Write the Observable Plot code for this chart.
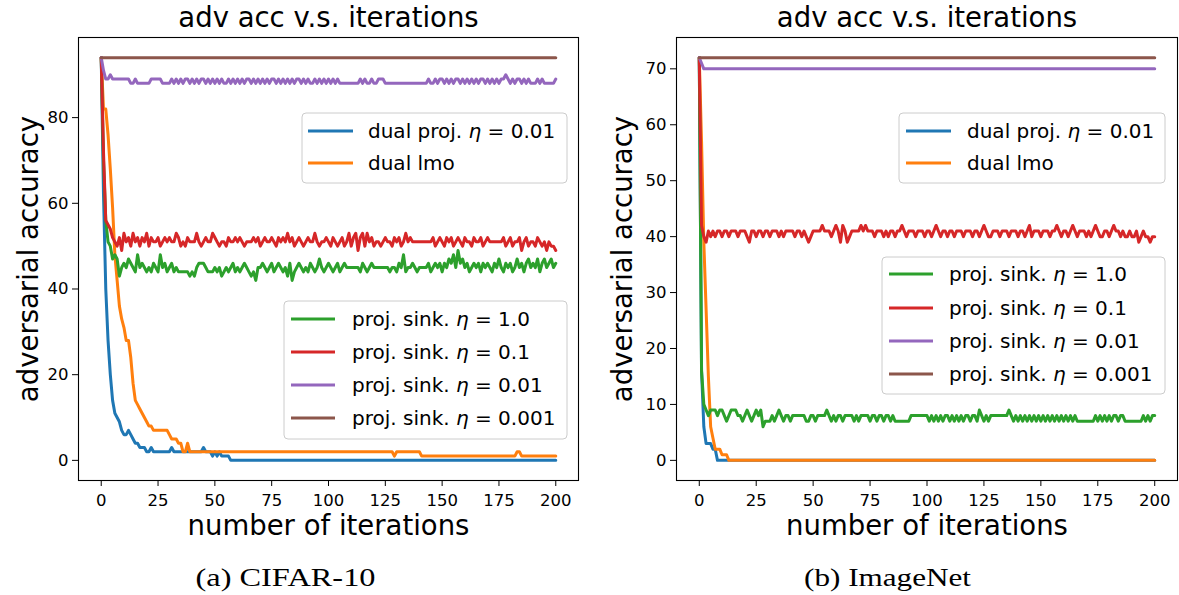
<!DOCTYPE html>
<html><head><meta charset="utf-8">
<script src="https://cdn.jsdelivr.net/npm/d3@7"></script>
<script src="https://cdn.jsdelivr.net/npm/@observablehq/plot@0.6"></script>
<style>
body{margin:0;background:#fff;}
#wrap{display:flex;width:1179px;height:595px;overflow:hidden;}
svg{display:block;overflow:visible}
</style></head><body><div id="wrap"></div>
<script>
// ---------- data ----------
const iterations = d3.range(0, 201);
const xTicks = [0, 25, 50, 75, 100, 125, 150, 175, 200];
const cifarYTicks = [0, 20, 40, 60, 80];
const imagenetYTicks = [0, 10, 20, 30, 40, 50, 60, 70];
const seriesKeys = ["dualProj", "dualLmo", "sink1", "sink01", "sink001", "sink0001"];
const seriesLabels = ["dual proj. η = 0.01", "dual lmo", "proj. sink. η = 1.0", "proj. sink. η = 0.1", "proj. sink. η = 0.01", "proj. sink. η = 0.001"];
const seriesColors = ["#1f77b4", "#ff7f0e", "#2ca02c", "#d62728", "#9467bd", "#8c564b"];
const panelTitles = ["adv acc v.s. iterations", "adv acc v.s. iterations"];
const panelCaptions = ["(a) CIFAR-10", "(b) ImageNet"];

// run notation: a number is one value, [value, n] is that value read n times in a row
const cifarDualProj = [94,62,40,28,20,14,11,10,9,7, 6,6,7,6,5,4,4,3,3,3, 2,2,3,2,2,2,2,2,2,2, 2,3,2,2,2,2,2,2,2,2, 2,2,2,2,2,3,2,2,2,1, 2,1,2,1,1,1,1,0, [0,143]];
const cifarDualLmo = [94,82,82,76,68,59,48,42,36,33, 31,28,28,24,18,14,13,12,11,10, 9,8,8,7,7,7,7,7,7,7, 6,5,5,5,4,4,2,2,4,2, [2,89], 1, [2,11], [1,42], 2, 2, [1,16]];
const cifarSink1 = [
94,70,56,51,50,47,48,47,43,45,
46,45,47,46,45,44,48,45,46,45,
44,45,44,46,45,44,48,45,46,44,
45,46,44,45,44,44,44,44,44,43,
44,43,45,46,46,46,45,44,44,44,
45,44,45,43,44,45,44,45,46,44,
45,44,45,46,45,44,43,44,42,45,
45,46,45,44,45,46,44,45,46,45,
44,45,43,46,42,44,45,46,45,44,
45,44,46,45,44,45,47,45,44,45,
46,45,44,45,46,44,45,46,45,45,
45,45,45,45,44,46,45,44,45,46,
45,45,45,45,45,45,45,44,45,45,
44,46,45,48,44,45,45,46,45,44,
45,45,45,45,46,44,45,46,45,46,
44,46,45,47,46,48,45,49,46,47,
45,46,44,45,46,45,46,44,46,45,
46,45,44,46,45,47,45,44,46,45,
46,44,45,47,45,46,44,46,47,45,
46,45,47,44,46,47,45,46,47,45,
46];
const cifarSink01 = [
94,72,56,55,54,52,51,50,52,49,
53,51,52,50,53,51,52,50,52,51,
53,50,52,51,51,52,50,51,52,51,
52,51,51,53,52,50,51,50,52,51,
51,51,53,51,50,51,52,51,51,53,
52,51,50,51,51,50,52,51,51,52,
51,52,51,50,51,51,51,52,51,52,
50,51,52,51,51,52,51,50,52,51,
52,51,53,51,52,50,51,52,51,50,
51,52,51,51,53,51,50,51,51,52,
51,50,52,51,50,51,52,50,51,53,
50,52,53,49,52,53,50,53,51,52,
50,51,51,50,51,52,51,51,50,52,
51,52,50,51,53,51,52,51,51,51,
51,51,51,51,51,51,52,50,51,52,
51,50,52,51,52,50,51,52,51,50,
52,51,51,50,52,51,51,52,50,51,
52,51,51,51,51,51,51,52,50,51,
52,50,51,51,52,49,51,52,50,51,
51,50,52,51,50,51,49,51,50,50,
49];
const cifarSink001 = [
94,91,89,89,90,89,89,89,89,89,
89,89,89,88,88,89,88,88,88,88,
88,88,89,89,89,89,89,88,88,88,
88,89,88,89,88,89,88,89,89,88,
89,88,89,88,89,89,88,89,88,89,
88,89,88,89,88,88,89,88,89,88,
89,88,89,88,89,89,88,89,88,89,
88,89,88,89,88,89,89,88,89,88,
89,88,89,88,89,88,89,89,88,89,
88,89,88,88,89,88,89,88,89,88,
89,88,89,88,89,88,88,88,88,88,
88,88,88,88,89,88,89,88,88,89,
88,88,89,89,89,88,88,88,88,88,
88,88,88,88,88,88,88,88,88,88,
88,88,88,88,89,88,88,89,88,89,
89,88,89,88,89,88,89,89,88,89,
88,89,88,89,88,89,88,89,89,88,
89,88,89,88,89,88,89,89,90,89,
88,89,88,89,89,88,89,88,89,88,
88,88,89,88,89,88,88,88,88,88,
89];
const cifarSink0001 = [[94, 201]];

const imagenetDualProj = [72,16,6,3,3,3,2,2, [0,193]];
const imagenetDualLmo = [72,57,39,27,15,6,4,2,2,2, 1,1,1, [0,188]];
const imagenetSink1 = [
72,16,10,9,8,9,9,9,8,9,
9,8,7,8,9,9,9,8,8,7,
8,9,8,7,8,9,8,9,6,7,
7,7,8,7,8,9,8,7,8,8,
7,8,8,8,8,8,8,7,7,8,
8,7,8,8,8,8,9,8,7,8,
7,8,8,7,8,8,8,8,7,8,
7,8,8,8,8,7,8,8,7,8,
8,7,8,8,7,8,7,7,7,7,
7,7,7,8,8,8,8,8,8,8,
8,7,8,7,8,7,8,7,8,8,
7,8,7,8,7,8,7,8,8,7,
8,8,7,9,8,7,8,7,8,8,
8,8,8,8,8,8,9,8,7,8,
7,8,7,8,7,8,7,8,7,8,
7,8,7,8,7,8,7,8,7,8,
7,8,7,8,7,8,7,7,7,7,
7,7,7,7,8,7,8,7,8,7,
8,7,8,8,7,8,8,7,7,7,
7,7,7,7,7,8,7,8,7,8,
8];
const imagenetSink01 = [
72,42,40,39,41,40,41,40,41,41,
40,41,41,40,41,41,41,40,41,41,
41,40,39,41,41,40,41,41,40,41,
41,40,41,41,41,40,41,40,41,41,
41,41,40,41,41,40,41,40,39,40,
41,41,41,41,42,41,41,41,40,41,
42,41,39,42,41,39,40,41,41,41,
41,42,41,42,41,41,41,40,41,41,
41,40,41,40,41,41,40,41,41,42,
41,40,41,41,41,40,41,41,41,40,
41,41,40,41,42,41,40,41,41,40,
41,41,40,41,41,41,40,41,41,41,
40,41,41,40,41,42,41,40,40,41,
41,41,40,41,41,41,40,41,41,41,
40,41,41,40,41,42,40,41,41,41,
40,41,41,41,40,41,41,42,41,40,
41,41,40,41,42,41,40,41,41,41,
40,41,40,41,42,41,40,40,41,41,
40,41,42,41,41,40,41,40,40,41,
40,40,41,39,40,41,40,40,39,40,
40];
const imagenetSink001 = [72, 71, [70, 199]];
const imagenetSink0001 = [[72, 201]];

// ---------- helpers ----------
function expand(spec) {
  const out = [];
  for (const s of spec) {
    if (Array.isArray(s)) { for (let k = 0; k < s[1]; k++) out.push(s[0]); }
    else out.push(s);
  }
  return out;
}

function addLegend(svg, box, rowsY, handleX, textX, idx) {
  const g = d3.select(svg).append("g").attr("text-anchor", "start");
  g.append("rect").attr("x", box[0]).attr("y", box[1]).attr("width", box[2]).attr("height", box[3])
    .attr("rx", 4).attr("fill", "#fff").attr("fill-opacity", 0.8).attr("stroke", "#cccccc").attr("stroke-width", 1);
  idx.forEach((s, j) => {
    g.append("line").attr("x1", handleX[0]).attr("x2", handleX[1]).attr("y1", rowsY[j]).attr("y2", rowsY[j])
      .attr("stroke", seriesColors[s]).attr("stroke-width", 3);
    const t = g.append("text").attr("x", textX).attr("y", rowsY[j]).attr("dy", "0.36em")
      .attr("text-anchor", "start")
      .attr("font-family", "'DejaVu Sans', sans-serif").attr("font-size", 20).attr("fill", "#000");
    const parts = seriesLabels[s].split("η");
    t.append("tspan").text(parts[0]);
    if (parts.length > 1) {
      t.append("tspan").attr("font-style", "italic").text("η");
      t.append("tspan").text(parts[1]);
    }
  });
}

function panel(o) {
  const rows = [];
  o.series.forEach((spec, s) => {
    expand(spec).forEach((v, i) => rows.push({series: seriesKeys[s], it: iterations[i], v}));
  });
  const svg = Plot.plot({
    width: o.width, height: 595,
    marginLeft: o.marginLeft, marginRight: o.marginRight, marginTop: 37, marginBottom: 115,
    style: {fontFamily: "'DejaVu Sans', sans-serif", fontSize: "16px", color: "#000", background: "#fff", overflow: "visible"},
    x: {domain: [-10, 210]},
    y: {domain: o.yDomain},
    color: {domain: seriesKeys, range: seriesColors},
    marks: [
      Plot.line(rows, {x: "it", y: "v", z: "series", stroke: "series", strokeWidth: 3, strokeLinejoin: "round"}),
      Plot.frame({stroke: "#000", strokeWidth: 1.1}),
      Plot.axisX({ticks: xTicks, tickSize: 6, tickPadding: 8, label: null, fontSize: 16.5, tickFormat: d => String(d)}),
      Plot.axisY({ticks: o.yTicks, tickSize: 6, tickPadding: 4, label: null, fontSize: 16.5, tickFormat: d => String(d)}),
      Plot.text([o.title], {text: d => d, frameAnchor: "top", textAnchor: "middle", lineAnchor: "middle", dy: -19, fontSize: 27.5}),
      Plot.text(["number of iterations"], {text: d => d, frameAnchor: "bottom", textAnchor: "middle", lineAnchor: "middle", dy: 46, fontSize: 27.5}),
      Plot.text(["adversarial accuracy"], {text: d => d, frameAnchor: "left", textAnchor: "middle", lineAnchor: "middle", rotate: -90, dx: o.ylabelDx, fontSize: 27.5}),
      Plot.text([o.caption], {text: d => d, frameAnchor: "bottom", textAnchor: "middle", lineAnchor: "middle", dy: 97, dx: o.captionDx, fontSize: 25, fontFamily: "'Liberation Serif', serif", className: "caption"})
    ]
  });
  d3.select(svg).selectAll(".caption text")
    .attr("textLength", o.captionWidth).attr("lengthAdjust", "spacingAndGlyphs");
  o.legends.forEach(L => addLegend(svg, L.box, L.rowsY, L.handleX, L.textX, L.idx));
  return svg;
}

const wrap = document.getElementById("wrap");
wrap.appendChild(panel({
  width: 590, marginLeft: 78, marginRight: 12,
  yDomain: [-4.7, 98.7], yTicks: cifarYTicks,
  series: [cifarDualProj, cifarDualLmo, cifarSink1, cifarSink01, cifarSink001, cifarSink0001],
  title: panelTitles[0], caption: panelCaptions[0], captionDx: -43, ylabelDx: -49, captionWidth: 180,
  legends: [
    {box: [302, 113, 265, 70], rowsY: [131, 163], handleX: [308, 353], textX: 368, idx: [0, 1]},
    {box: [284, 301, 283, 138], rowsY: [319, 352, 385, 418], handleX: [291, 335], textX: 352, idx: [2, 3, 4, 5]}
  ]
}));
wrap.appendChild(panel({
  width: 589, marginLeft: 86, marginRight: 2,
  yDomain: [-3.6, 75.6], yTicks: imagenetYTicks,
  series: [imagenetDualProj, imagenetDualLmo, imagenetSink1, imagenetSink01, imagenetSink001, imagenetSink0001],
  title: panelTitles[1], caption: panelCaptions[1], captionDx: -39.5, ylabelDx: -53, captionWidth: 167,
  legends: [
    {box: [309, 113, 266, 70], rowsY: [131, 163], handleX: [316, 361], textX: 377, idx: [0, 1]},
    {box: [292, 257, 283, 137], rowsY: [274, 308, 341, 374], handleX: [299, 343], textX: 359, idx: [2, 3, 4, 5]}
  ]
}));
</script></body></html>
